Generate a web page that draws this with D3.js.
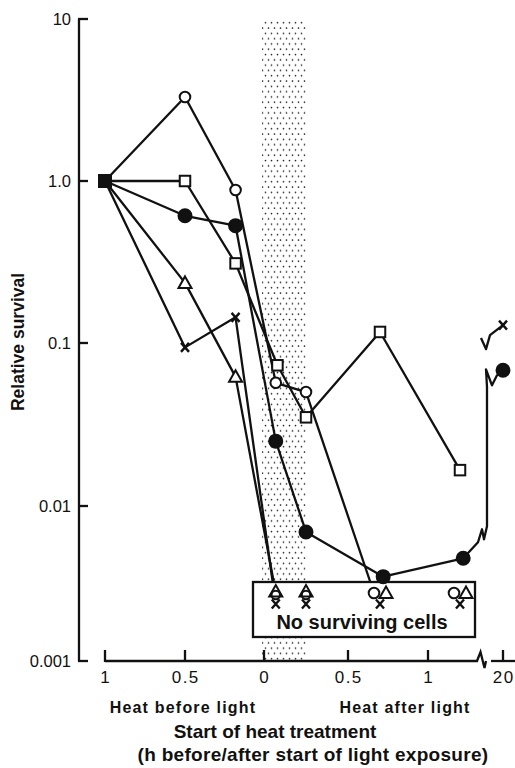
<!DOCTYPE html>
<html><head><meta charset="utf-8">
<script src="https://cdn.jsdelivr.net/npm/d3@7"></script>
<style>
body{margin:0;background:#fff}
svg{display:block}
text{font-family:"Liberation Sans",Arial,Helvetica,sans-serif;fill:#111}
</style>
</head><body>
<svg id="chart" width="515" height="768"></svg>
<script>
// Relative survival vs start of heat treatment (hours); negative = heat before light.
const openCircle   = [[-1,1],[-0.5,3.3],[-0.18,0.88],[0.07,0.057],[0.25,0.05]];
const openSquare   = [[-1,1],[-0.5,1.0],[-0.18,0.31],[0.08,0.073],[0.25,0.035],[0.7,0.117],[1.2,0.0166]];
const filledCircle = [[-1,1],[-0.5,0.61],[-0.18,0.53],[0.07,0.025],[0.25,0.0068],[0.72,0.0035],[1.22,0.0046]];
const openTriangle = [[-1,1],[-0.5,0.235],[-0.18,0.062]];
const cross        = [[-1,1],[-0.5,0.094],[-0.18,0.144]];
// 20 h values, drawn beyond the axis break
const filledCircleLate = [20,0.068];
const crossLate        = [20,0.129];
// times at which no cells survived
const noSurvivorCircle   = [0.07,0.25,0.7,1.2];
const noSurvivorTriangle = [0.07,0.25,0.7,1.2];
const noSurvivorCross    = [0.07,0.25,0.7,1.2];
// axes
const yTicks = [10,1,0.1,0.01,0.001];
const yTickLabels = ["10","1.0","0.1","0.01","0.001"];
const xTicks = [-1,-0.5,0,0.5,1];
const xTickLabels = ["1","0.5","0","0.5","1"];
const lateTick = 20, lateTickLabel = "20";
const heatWindow = [0,0.25];

const svg = d3.select("#chart");
const x = d3.scaleLinear().domain([-1,-0.5,0,0.5,1]).range([105,185,264,348,428]);
const xLate = d3.scaleLinear().domain([19,21]).range([488,518]);
const y = d3.scaleLog().domain([0.001,0.01,0.1,1,10]).range([661,506,343,181,19]);
const px = t => t >= 19 ? xLate(t) : x(t);
const y0 = y(0.001), axisX = 79;
const SW = 2.3;

// stippled heat window
const defs = svg.append("defs");
const pat = defs.append("pattern").attr("id","stipple").attr("patternUnits","userSpaceOnUse")
  .attr("width",6).attr("height",10.6);
pat.append("circle").attr("cx",1.5).attr("cy",1.5).attr("r",0.85).attr("fill","#222");
pat.append("circle").attr("cx",4.5).attr("cy",6.8).attr("r",0.85).attr("fill","#222");
svg.append("rect").attr("x",x(heatWindow[0])-2).attr("y",y(10))
  .attr("width",x(heatWindow[1])-x(heatWindow[0])+2).attr("height",y0-y(10))
  .attr("fill","url(#stipple)");

// y axis
const ya = svg.append("g");
ya.append("line").attr("x1",axisX).attr("x2",axisX).attr("y1",y(10)).attr("y2",y0)
  .attr("stroke","#111").attr("stroke-width",SW);
yTicks.forEach((v,i)=>{
  ya.append("line").attr("x1",axisX-1).attr("x2",axisX+9).attr("y1",y(v)).attr("y2",y(v))
    .attr("stroke","#111").attr("stroke-width",SW);
  ya.append("text").attr("x",axisX-8).attr("y",y(v)).attr("dy","0.36em")
    .attr("text-anchor","end").attr("font-size",16.5).text(yTickLabels[i]);
});
svg.append("text").attr("transform",`translate(24,342) rotate(-90)`)
  .attr("text-anchor","middle").attr("font-size",17.5).attr("font-weight","bold").text("Relative survival");

// x axis with break before 20 h
const brk = 477;
const xa = svg.append("g");
xa.append("path").attr("d",`M${x(-1)},${y0}H${brk}L${brk+3.5},${y0-9}L${brk+7.5},${y0+7}L${brk+9},${y0}`)
  .attr("fill","none").attr("stroke","#111").attr("stroke-width",SW);
xa.append("path").attr("d",`M${brk+14},${y0}H515`).attr("fill","none").attr("stroke","#111").attr("stroke-width",SW);
xTicks.concat([lateTick]).forEach((t,i)=>{
  xa.append("line").attr("x1",px(t)).attr("x2",px(t)).attr("y1",y0+1).attr("y2",y0-11)
    .attr("stroke","#111").attr("stroke-width",SW);
  xa.append("text").attr("x",px(t)+0.75).attr("y",y0+22).attr("text-anchor","middle")
    .attr("font-size",17).attr("letter-spacing",1.5)
    .text(i < xTicks.length ? xTickLabels[i] : lateTickLabel);
});
svg.append("text").attr("x",183).attr("y",713).attr("text-anchor","middle")
  .attr("font-size",16).attr("font-weight","bold").attr("letter-spacing",1.2).text("Heat before light");
svg.append("text").attr("x",405).attr("y",713).attr("text-anchor","middle")
  .attr("font-size",16).attr("font-weight","bold").attr("letter-spacing",1.2).text("Heat after light");
svg.append("text").attr("x",275).attr("y",738).attr("text-anchor","middle")
  .attr("font-size",19).attr("font-weight","bold").text("Start of heat treatment");
svg.append("text").attr("x",313).attr("y",761).attr("text-anchor","middle")
  .attr("font-size",19).attr("font-weight","bold").attr("letter-spacing",0.3).text("(h before/after start of light exposure)");

// row for "no surviving cells"
const nsY = 593, nsCrossY = 604;
const nsOffset = {circle:-6, triangle:6, cross:0};
const nsShift = (t,kind) => (t > 0.5 ? nsOffset[kind] : 0);

const line = d3.line().x(d=>px(d[0])).y(d=>y(d[1]));
const series = svg.append("g").attr("fill","none").attr("stroke","#111").attr("stroke-width",SW)
  .attr("stroke-linejoin","round");
const toPts = arr => arr.map(d=>[px(d[0]),y(d[1])]);
const pathOf = pts => d3.line()(pts);

series.append("path").attr("d",pathOf(toPts(openCircle).concat([[x(0.7)+nsShift(0.7,"circle"),nsY]])));
series.append("path").attr("d",line(openSquare));
series.append("path").attr("d",line(filledCircle));
series.append("path").attr("d",pathOf(toPts(openTriangle).concat([[x(noSurvivorTriangle[0]),nsY]])));
series.append("path").attr("d",pathOf(toPts(cross).concat([[x(noSurvivorCross[0]),nsCrossY]])));

// broken connections to the 20 h points
{
  const last = filledCircle[filledCircle.length-1];
  const lx = px(last[0]), ly = y(last[1]);
  const vx = brk + 10;
  const ex = px(filledCircleLate[0]), ey = y(filledCircleLate[1]);
  series.append("path").attr("d",
    `M${lx},${ly}L${vx-9},${ly-16}L${vx-5},${ly-29}L${vx-3},${ly-19}L${vx},${ly-32}` +
    `V${ey+17}L${vx-1},${ey-1}L${vx+5},${ey+15}L${vx+10},${ey+5}L${ex},${ey}`);
  const cx = px(crossLate[0]), cy = y(crossLate[1]);
  series.append("path").attr("d",
    `M${cx},${cy}L${cx-13},${cy+10}L${cx-17},${cy+24}L${cx-22},${cy+13}`);
}

// "No surviving cells" box
svg.append("rect").attr("x",253).attr("y",582).attr("width",222).attr("height",55)
  .attr("fill","#fff").attr("stroke","#111").attr("stroke-width",SW);
svg.append("text").attr("x",362).attr("y",629).attr("text-anchor","middle")
  .attr("font-size",20).attr("font-weight","bold").text("No surviving cells");

// markers
const mk = svg.append("g");
function circle(cx,cy,filled,r){
  mk.append("circle").attr("cx",cx).attr("cy",cy).attr("r",r||(filled?6.5:5.3))
    .attr("fill",filled?"#111":"#fff").attr("stroke","#111").attr("stroke-width",2);
}
function square(cx,cy,filled){
  const s = filled?12:10.5;
  mk.append("rect").attr("x",cx-s/2).attr("y",cy-s/2).attr("width",s).attr("height",s)
    .attr("fill",filled?"#111":"#fff").attr("stroke","#111").attr("stroke-width",2);
}
function triangle(cx,cy,fill){
  mk.append("path").attr("d",`M${cx},${cy-6.5}L${cx+6.5},${cy+5}L${cx-6.5},${cy+5}Z`)
    .attr("fill",fill||"#fff").attr("stroke","#111").attr("stroke-width",2);
}
function crossMark(cx,cy){
  mk.append("path").attr("d",`M${cx-4},${cy-4.5}L${cx+4},${cy+4.5}M${cx+4},${cy-4.5}L${cx-4},${cy+4.5}`)
    .attr("fill","none").attr("stroke","#111").attr("stroke-width",2.4);
}
openCircle.slice(1).forEach(d=>circle(px(d[0]),y(d[1]),false));
openSquare.slice(1).forEach(d=>square(px(d[0]),y(d[1]),false));
filledCircle.slice(1).forEach(d=>circle(px(d[0]),y(d[1]),true));
circle(px(filledCircleLate[0]),y(filledCircleLate[1]),true);
openTriangle.slice(1).forEach(d=>triangle(px(d[0]),y(d[1])));
cross.slice(1).forEach(d=>crossMark(px(d[0]),y(d[1])));
crossMark(px(crossLate[0]),y(crossLate[1]));
square(px(-1),y(1),true);

// no-survivor row: side by side after light, stacked during the heat window
noSurvivorCircle.forEach(t=>{
  const stacked = t < 0.5;
  circle(x(t)+nsShift(t,"circle"), stacked ? nsY+2 : nsY, false, stacked ? 4.2 : 5.3);
});
noSurvivorTriangle.forEach(t=>{
  const stacked = t < 0.5;
  triangle(x(t)+nsShift(t,"triangle"), stacked ? nsY-1.5 : nsY, stacked ? "none" : "#fff");
});
noSurvivorCross.forEach(t=>crossMark(x(t),nsCrossY));
</script>
</body></html>
